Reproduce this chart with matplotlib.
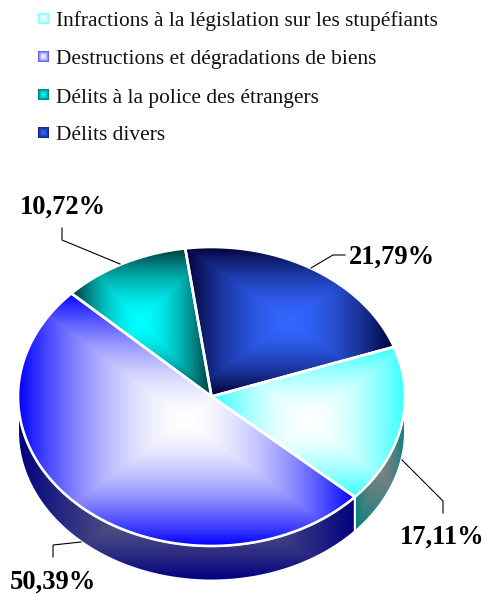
import numpy as np
import matplotlib
matplotlib.use("Agg")
import matplotlib.pyplot as plt
from matplotlib.path import Path
from matplotlib.patches import PathPatch
from matplotlib.colors import to_rgb

categories = ["Infractions à la législation sur les stupéfiants",
              "Destructions et dégradations de biens",
              "Délits à la police des étrangers",
              "Délits divers"]
shares = [17.11, 50.39, 10.72, 21.79]
share_labels = ["17,11%", "50,39%", "10,72%", "21,79%"]
center_colors = ["#ffffff", "#ffffff", "#00ffff", "#3366ff"]
edge_colors = ["#33ffff", "#0000ff", "#003333", "#000033"]
side_center_colors = ["#808080", "#6c6c84", "#808080", "#666680"]
side_edge_colors = ["#008080", "#000080", "#008080", "#000080"]

W, H = 486, 594
CX, CY, A, B, DEPTH, START = 211.5, 396.5, 193.5, 149.5, 34.5, 19.4

fig = plt.figure(figsize=(W / 100, H / 100), dpi=100, facecolor="white")
ax = fig.add_axes([0, 0, 1, 1])
ax.set_axis_off()
plt.rcParams["font.family"] = ["Liberation Serif", "DejaVu Serif"]


def gradient(ax, bbox, c_in, c_out, clip=None, z=2, power=1.7, tmax=1.0):
    x0, y0, x1, y1 = bbox
    nx, ny = max(int((x1 - x0) * 3), 8), max(int((y1 - y0) * 3), 8)
    xs = (np.arange(nx) + .5) / nx * 2 - 1
    ys = (np.arange(ny) + .5) / ny * 2 - 1
    t = np.maximum(np.abs(xs)[None, :], np.abs(ys)[:, None])[..., None]
    t = (t ** power) * tmax
    img = np.array(to_rgb(c_in)) * (1 - t) + np.array(to_rgb(c_out)) * t
    im = ax.imshow(img, extent=(x0, x1, y1, y0), origin="upper", aspect="auto",
                   interpolation="bilinear", zorder=z)
    if clip is not None:
        im.set_clip_path(clip)


def ell(th, dy=0):
    r = np.radians(th)
    return np.c_[CX + A * np.cos(r), CY - B * np.sin(r) + dy]


def poly_patch(pts, z, lw=1.9):
    path = Path(np.vstack([pts, pts[:1]]), closed=False)
    return PathPatch(path, fc="none", ec="white", lw=lw, zorder=z, transform=ax.transData,
                     joinstyle="miter")


ax.set_xlim(0, W)
ax.set_ylim(H, 0)

# slice boundaries, clockwise from the start angle
bounds = START - np.cumsum([0] + [s * 3.6 for s in shares])
for i in range(len(shares)):
    a0, a1 = bounds[i], bounds[i + 1]
    # extruded side (only lower half of the ellipse is visible)
    lo, hi = max(a1, -180), min(a0, 0)
    if lo < hi:
        th = np.linspace(hi, lo, 200)
        pts = np.vstack([ell(th), ell(th[::-1], DEPTH)])
        p = poly_patch(pts, 3, lw=1.4)
        ax.add_patch(p)
        bb = (pts[:, 0].min(), pts[:, 1].min(), pts[:, 0].max(), pts[:, 1].max())
        gradient(ax, bb, side_center_colors[i], side_edge_colors[i], clip=p, z=2, power=1.5)
for i in range(len(shares)):
    a0, a1 = bounds[i], bounds[i + 1]
    th = np.linspace(a0, a1, 300)
    pts = np.vstack([[CX, CY], ell(th)])
    p = poly_patch(pts, 5)
    ax.add_patch(p)
    bb = (pts[:, 0].min(), pts[:, 1].min(), pts[:, 0].max(), pts[:, 1].max())
    gradient(ax, bb, center_colors[i], edge_colors[i], clip=p, z=4)

# leader lines
leaders = [[(402, 460), (443, 501), (443, 513)],
           [(81, 542), (53, 545), (53, 557)],
           [(120, 264), (62, 240), (62, 228)],
           [(311, 268), (333, 255), (345, 255)]]
label_xy = [(400, 544), (10, 589), (20, 214), (349, 264)]
for pts, lab, xy in zip(leaders, share_labels, label_xy):
    xs, ys = zip(*pts)
    ax.plot(xs, ys, color="black", lw=0.8, zorder=6, solid_joinstyle="miter")
    ax.text(xy[0], xy[1], lab, fontsize=19.1, fontweight="bold", color="black",
            ha="left", va="baseline", zorder=7)

# legend
rows_y = [13.5, 51.5, 89.5, 127.5]
text_y = [26, 64, 103, 140.5]
for i, c in enumerate(categories):
    gradient(ax, (38, rows_y[i], 48.5, rows_y[i] + 10.5), center_colors[i], edge_colors[i], z=4, power=1.5, tmax=0.7)
    ax.text(55.5, text_y[i], c, fontsize=15.4, color="#111111", ha="left", va="baseline", zorder=7)

ax.set_xlim(0, W)
ax.set_ylim(H, 0)
fig.savefig("out.png", dpi=100, facecolor="white")
